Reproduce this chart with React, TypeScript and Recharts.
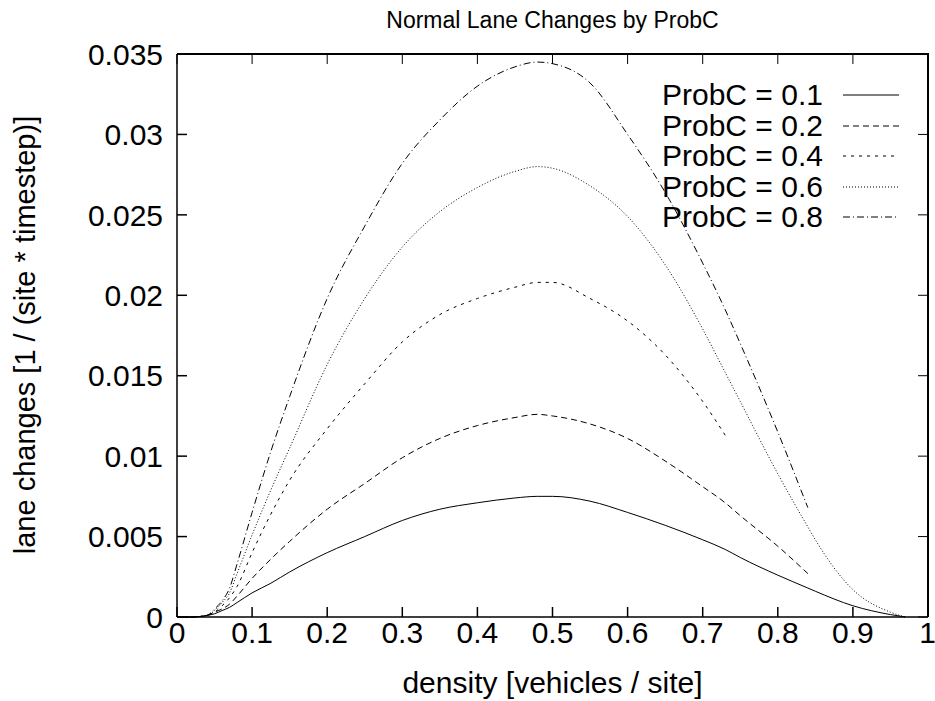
import { Legend, Line, LineChart, XAxis, YAxis } from "recharts";

const FONT = '"Liberation Sans", Arial, Helvetica, sans-serif';

// density samples (shared by all series)
const density = [
  0, 0.02, 0.04, 0.05, 0.06, 0.07, 0.08, 0.1, 0.125, 0.15, 0.2, 0.25, 0.3, 0.35, 0.4, 0.45, 0.48, 0.5, 0.55,
  0.6, 0.65, 0.7, 0.73, 0.75, 0.8, 0.84, 0.85, 0.9, 0.95, 0.97
];

const probC01 = [
  0, 0, 0.0001, 0.0002, 0.0004, 0.0006, 0.0009, 0.0015, 0.0021, 0.0028, 0.004, 0.005, 0.006, 0.0067, 0.0071,
  0.0074, 0.0075, 0.0075, 0.0072, 0.0065, 0.0057, 0.0048, 0.0042, 0.0037, 0.0026, 0.0018, 0.0016, 0.0007,
  0.00015, 0
];
const probC02 = [
  0, 0, 0.0001, 0.0003, 0.0005, 0.0008, 0.0013, 0.0024, 0.0036, 0.0047, 0.0067, 0.0083, 0.0099, 0.0111, 0.0119,
  0.0124, 0.0126, 0.0125, 0.012, 0.0111, 0.0097, 0.0081, 0.0071, 0.0063, 0.0044, 0.0027, null, null, null, null
];
const probC04 = [
  0, 0, 0.0001, 0.0003, 0.0007, 0.0012, 0.0019, 0.004, 0.0064, 0.0085, 0.0117, 0.0145, 0.0171, 0.0188, 0.0198,
  0.0205, 0.0208, 0.0208, 0.0198, 0.0184, 0.0163, 0.0134, 0.0113, null, null, null, null, null, null, null
];
const probC06 = [
  0, 0, 0.0001, 0.0004, 0.0009, 0.0015, 0.0027, 0.0051, 0.0079, 0.0105, 0.0157, 0.0198, 0.023, 0.0252, 0.0267,
  0.0277, 0.028, 0.0279, 0.0268, 0.0249, 0.0219, 0.0179, 0.0152, 0.0134, 0.0089, 0.0056, 0.0048, 0.0017,
  0.0003, 0
];
const probC08 = [
  0, 0, 0.0001, 0.0005, 0.001, 0.0018, 0.0033, 0.0065, 0.0103, 0.0137, 0.0198, 0.0243, 0.0282, 0.0309, 0.033,
  0.0342, 0.0345, 0.0344, 0.0332, 0.03, 0.0264, 0.022, 0.0191, 0.017, 0.0115, 0.0068, null, null, null, null
];

const xTicks = [0, 0.1, 0.2, 0.3, 0.4, 0.5, 0.6, 0.7, 0.8, 0.9, 1];
const xTickLabels = ["0", "0.1", "0.2", "0.3", "0.4", "0.5", "0.6", "0.7", "0.8", "0.9", "1"];
const yTicks = [0, 0.005, 0.01, 0.015, 0.02, 0.025, 0.03, 0.035];
const yTickLabels = ["0", "0.005", "0.01", "0.015", "0.02", "0.025", "0.03", "0.035"];

const X_MAX = 1;
const Y_MAX = 0.035;

// plot box (matches chart margin + axis sizes below)
const BOX = { left: 177, top: 54, width: 751, height: 563 };

const series = [
  { key: "p01", label: "ProbC = 0.1", values: probC01, dash: undefined },
  { key: "p02", label: "ProbC = 0.2", values: probC02, dash: "6 4" },
  { key: "p04", label: "ProbC = 0.4", values: probC04, dash: "3 5" },
  { key: "p06", label: "ProbC = 0.6", values: probC06, dash: "1 2" },
  { key: "p08", label: "ProbC = 0.8", values: probC08, dash: "7 3 1 3" }
];

const data = density.map((x, i) => {
  const row: Record<string, number | null> = { x };
  series.forEach((s) => {
    row[s.key] = s.values[i];
  });
  return row;
});

function KeyBox() {
  return (
    <div style={{ fontFamily: FONT, fontSize: 30, color: "#000" }}>
      {series.map((s) => (
        <div key={s.key} style={{ display: "flex", alignItems: "center", height: 30.5 }}>
          <span style={{ width: 181, lineHeight: "30px" }}>{s.label}</span>
          <svg width={56} height={10}>
            <line x1={0} y1={5} x2={56} y2={5} stroke="#000" strokeWidth={1} strokeDasharray={s.dash} />
          </svg>
        </div>
      ))}
    </div>
  );
}

// top and right border of the frame, with mirrored ticks
function FrameMirror() {
  const right = BOX.left + BOX.width;
  const bottom = BOX.top + BOX.height;
  return (
    <>
      <div
        style={{
          position: "absolute",
          left: BOX.left,
          top: BOX.top - 1,
          width: BOX.width + 1,
          height: BOX.height + 1,
          borderTop: "2px solid #000",
          borderRight: "2px solid #000",
          boxSizing: "border-box",
          pointerEvents: "none",
          zIndex: 5
        }}
      />
      <svg
        width={935}
        height={701}
        style={{ position: "absolute", left: 0, top: 0, pointerEvents: "none", zIndex: 6 }}
      >
        {xTicks.map((t) => {
          const x = BOX.left + (t / X_MAX) * BOX.width;
          return <line key={`tx${t}`} x1={x} y1={BOX.top} x2={x} y2={BOX.top + 10} stroke="#000" strokeWidth={1} />;
        })}
        {yTicks.map((t) => {
          const y = bottom - (t / Y_MAX) * BOX.height;
          return <line key={`ty${t}`} x1={right} y1={y} x2={right - 10} y2={y} stroke="#000" strokeWidth={1} />;
        })}
      </svg>
    </>
  );
}

const tickStyle = { fontSize: 30, fill: "#000", fontFamily: FONT };

export default function App() {
  return (
    <div style={{ position: "absolute", left: 0, top: 0, width: 935, height: 701, background: "#fff" }}>
      <div
        style={{
          position: "absolute",
          left: 177,
          width: 751,
          top: 8,
          textAlign: "center",
          fontFamily: FONT,
          fontSize: 23,
          lineHeight: "25px"
        }}
      >
        Normal Lane Changes by ProbC
      </div>
      <LineChart width={935} height={701} data={data} margin={{ top: 54, right: 7, bottom: 0, left: 0 }}>
        <XAxis
          dataKey="x"
          type="number"
          domain={[0, X_MAX]}
          ticks={xTicks}
          tickFormatter={(_v: number, i: number) => xTickLabels[i]}
          height={84}
          tickSize={-10}
          tickMargin={15}
          tick={tickStyle}
          stroke="#000"
          strokeWidth={1.5}
        />
        <YAxis
          type="number"
          domain={[0, Y_MAX]}
          ticks={yTicks}
          tickFormatter={(_v: number, i: number) => yTickLabels[i]}
          width={177}
          tickSize={-10}
          tickMargin={24}
          tick={tickStyle}
          stroke="#000"
          strokeWidth={1.5}
        />
        <Legend
          layout="vertical"
          align="center"
          verticalAlign="middle"
          wrapperStyle={{ left: 662, top: 80, width: 260 }}
          content={() => <KeyBox />}
        />
        {series.map((s) => (
          <Line
            key={s.key}
            type="monotone"
            dataKey={s.key}
            name={s.label}
            stroke="#000"
            strokeWidth={1}
            strokeDasharray={s.dash}
            dot={false}
            activeDot={false}
            isAnimationActive={false}
          />
        ))}
      </LineChart>
      <FrameMirror />
      <div
        style={{
          position: "absolute",
          left: 177,
          width: 751,
          top: 668,
          textAlign: "center",
          fontFamily: FONT,
          fontSize: 30,
          lineHeight: "30px"
        }}
      >
        density [vehicles / site]
      </div>
      <div
        style={{
          position: "absolute",
          left: 25,
          top: 335,
          transform: "translate(-50%, -50%) rotate(-90deg)",
          whiteSpace: "nowrap",
          fontFamily: FONT,
          fontSize: 29,
          lineHeight: "30px"
        }}
      >
        lane changes [1 / (site * timestep)]
      </div>
    </div>
  );
}
